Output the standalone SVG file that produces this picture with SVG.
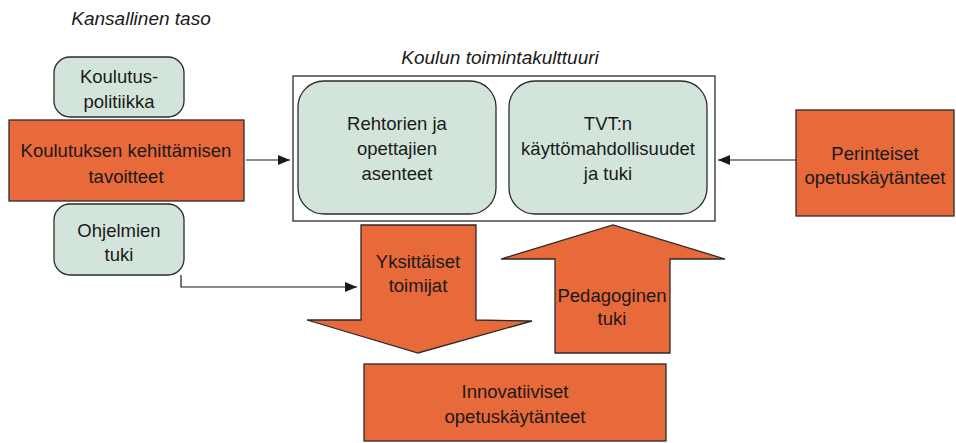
<svg xmlns="http://www.w3.org/2000/svg" width="956" height="443" viewBox="0 0 956 443">
  <style>
    text { font-family: "Liberation Sans", Arial, sans-serif; font-size: 18.5px; fill: #1a1a1a; text-anchor: middle; }
    .cap { font-style: italic; font-size: 19px; }
    .soft { fill: #d3e5db; stroke: #2b2b2b; stroke-width: 1.3; }
    .hot { fill: #e8693a; stroke: #2b2b2b; stroke-width: 1.3; }
    .frame { fill: #ffffff; stroke: #2b2b2b; stroke-width: 1.3; }
    .wire { fill: none; stroke: #1a1a1a; stroke-width: 1.2; }
  </style>
  <defs>
    <marker id="tip" viewBox="0 0 12 10" refX="12" refY="5" markerWidth="12" markerHeight="10" markerUnits="userSpaceOnUse" orient="auto">
      <path d="M0,0 L12,5 L0,10 z" fill="#1a1a1a"/>
    </marker>
  </defs>

  <rect width="956" height="443" fill="#ffffff"/>

  <!-- captions -->
  <text class="cap" x="141" y="25">Kansallinen taso</text>
  <text class="cap" x="500" y="64">Koulun toimintakulttuuri</text>

  <!-- national level -->
  <g id="koulutuspolitiikka">
    <rect class="soft" x="54" y="57" width="130" height="60" rx="16"/>
    <text x="119" y="83">Koulutus-</text>
    <text x="119" y="108">politiikka</text>
  </g>
  <g id="tavoitteet">
    <rect class="hot" x="9" y="120" width="235" height="81"/>
    <text x="126" y="157">Koulutuksen kehittämisen</text>
    <text x="126" y="183">tavoitteet</text>
  </g>
  <g id="ohjelmien-tuki">
    <rect class="soft" x="54" y="204" width="130" height="71" rx="16"/>
    <text x="119" y="237">Ohjelmien</text>
    <text x="119" y="261">tuki</text>
  </g>

  <!-- school culture frame -->
  <g id="toimintakulttuuri">
    <rect class="frame" x="293" y="76" width="422" height="145"/>
  </g>
  <g id="asenteet">
    <rect class="soft" x="298" y="81" width="198" height="133" rx="26"/>
    <text x="397" y="130">Rehtorien ja</text>
    <text x="397" y="155">opettajien</text>
    <text x="397" y="180">asenteet</text>
  </g>
  <g id="tvt">
    <rect class="soft" x="509" y="81" width="198" height="133" rx="26"/>
    <text x="608" y="130">TVT:n</text>
    <text x="608" y="155">käyttömahdollisuudet</text>
    <text x="608" y="180">ja tuki</text>
  </g>

  <!-- traditional practices -->
  <g id="perinteiset">
    <rect class="hot" x="796" y="110" width="158" height="106"/>
    <text x="875" y="160">Perinteiset</text>
    <text x="875" y="184">opetuskäytänteet</text>
  </g>

  <!-- block arrows -->
  <g id="yksittaiset">
    <path class="hot" d="M361,225 L476,225 L476,320 L532,321 L418,353 L307,320 L361,320 Z"/>
    <text x="418" y="268">Yksittäiset</text>
    <text x="418" y="292">toimijat</text>
  </g>
  <g id="pedagoginen">
    <path class="hot" d="M555,353 L555,259 L501,259 L613,225 L725,259 L670,259 L670,353 Z"/>
    <text x="612" y="302">Pedagoginen</text>
    <text x="612" y="325">tuki</text>
  </g>

  <!-- outcome -->
  <g id="innovatiiviset">
    <rect class="hot" x="364" y="364" width="302" height="77"/>
    <text x="515" y="398">Innovatiiviset</text>
    <text x="515" y="423">opetuskäytänteet</text>
  </g>

  <!-- connectors -->
  <g id="connectors">
    <line class="wire" x1="246" y1="160" x2="290" y2="160" marker-end="url(#tip)"/>
    <line class="wire" x1="796" y1="160" x2="718" y2="160" marker-end="url(#tip)"/>
    <polyline class="wire" points="181,275 181,287 357,287" marker-end="url(#tip)"/>
  </g>
</svg>
